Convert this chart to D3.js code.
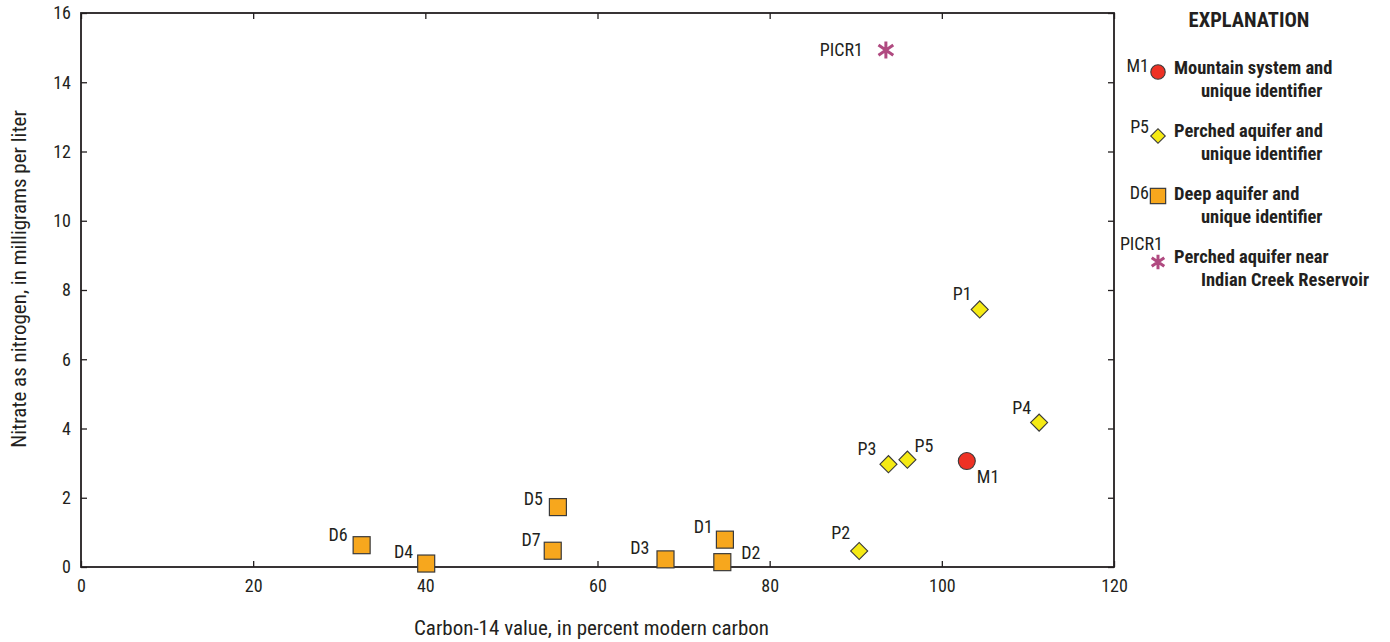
<!DOCTYPE html>
<html>
<head>
<meta charset="utf-8">
<script src="https://cdn.jsdelivr.net/npm/d3@7"></script>
<style>
  body { margin: 0; background: #fff; }
  svg text { font-family: "Liberation Sans Narrow", "Roboto Condensed", "Liberation Sans", sans-serif; fill: #231f20; }
</style>
</head>
<body>
<svg id="chart" width="1390" height="642"></svg>
<script>
// sample sites: carbon-14 (percent modern carbon) and nitrate (mg/L as N)
var siteIds   = ["D6", "D4", "D5", "D7", "D3", "D1", "D2", "P2", "P3", "P5", "M1", "P4", "P1", "PICR1"];
var siteGroup = ["deep", "deep", "deep", "deep", "deep", "deep", "deep", "perched", "perched", "perched", "mountain", "perched", "perched", "picr"];
var carbon14  = [32.6, 40.1, 55.4, 54.8, 67.9, 74.8, 74.5, 90.4, 93.8, 96.0, 102.9, 111.3, 104.4, 93.5];
var nitrate   = [0.63, 0.1, 1.73, 0.47, 0.22, 0.79, 0.14, 0.46, 2.97, 3.1, 3.06, 4.17, 7.44, 14.93];

var xTicks = [0, 20, 40, 60, 80, 100, 120];
var yTicks = [0, 2, 4, 6, 8, 10, 12, 14, 16];

var legendGroups = ["mountain", "perched", "deep", "picr"];
var legendIds = ["M1", "P5", "D6", "PICR1"];
var legendLines = [
  ["Mountain system and", "unique identifier"],
  ["Perched aquifer and", "unique identifier"],
  ["Deep aquifer and", "unique identifier"],
  ["Perched aquifer near", "Indian Creek Reservoir"]
];

var COLOR = {
  deep: "#f7a71d",
  perched: "#f5ea14",
  mountain: "#ee3124",
  picr: "#b04a80",
  line: "#231f20"
};

var margin = { left: 81, right: 276, top: 13, bottom: 75 };
var width = 1390 - margin.left - margin.right;
var height = 642 - margin.top - margin.bottom;

var svg = d3.select("#chart");
var g = svg.append("g").attr("transform", "translate(" + margin.left + "," + margin.top + ")");

var x = d3.scaleLinear().domain([0, 120]).range([0, width]);
var y = d3.scaleLinear().domain([0, 16]).range([height, 0]);

var data = siteIds.map(function (id, i) {
  return { id: id, group: siteGroup[i], c14: carbon14[i], no3: nitrate[i] };
});

// label placement relative to the marker: [dx, dy, anchor]
var labelPos = {
  D6: [-14, -4, "end"], D4: [-13, -6, "end"], D5: [-15, -2, "end"], D7: [-12, -5, "end"],
  D3: [-16, -5, "end"], D1: [-12, -7, "end"], D2: [19, -3, "start"], P2: [-9, -12, "end"],
  P3: [-12, -9, "end"], P5: [7, -8, "start"], M1: [10, 22, "start"], P4: [-8, -9, "end"],
  P1: [-8, -9, "end"], PICR1: [-23, 6, "end"]
};

// axes, ticks pointing inward on all four sides
function styleAxis(sel) {
  sel.select(".domain").remove();
  sel.selectAll("line").attr("stroke", COLOR.line).attr("stroke-width", 1.3);
  sel.selectAll("text").style("font-size", "18px").attr("fill", COLOR.line);
}

g.append("g")
  .attr("transform", "translate(0," + height + ")")
  .call(d3.axisBottom(x).tickValues(xTicks).tickSize(-6).tickPadding(12).tickFormat(d3.format("d")))
  .call(styleAxis);
g.append("g")
  .call(d3.axisLeft(y).tickValues(yTicks).tickSize(-6).tickPadding(10).tickFormat(d3.format("d")))
  .call(styleAxis);
g.append("g")
  .call(d3.axisTop(x).tickValues(xTicks).tickSize(-6).tickFormat(""))
  .call(styleAxis);
g.append("g")
  .attr("transform", "translate(" + width + ",0)")
  .call(d3.axisRight(y).tickValues(yTicks).tickSize(-6).tickFormat(""))
  .call(styleAxis);

g.append("rect")
  .attr("width", width)
  .attr("height", height)
  .attr("fill", "none")
  .attr("stroke", COLOR.line)
  .attr("stroke-width", 1.8);

// axis titles
svg.append("text")
  .attr("x", margin.left + x(60) - 6)
  .attr("y", 635)
  .attr("text-anchor", "middle")
  .style("font-size", "21px")
  .text("Carbon-14 value, in percent modern carbon");

svg.append("text")
  .attr("transform", "translate(26,279) rotate(-90)")
  .attr("text-anchor", "middle")
  .style("font-size", "21px")
  .text("Nitrate as nitrogen, in milligrams per liter");

// marker drawing
function drawMarker(sel, group, scale) {
  scale = scale || 1;
  if (group === "deep") {
    sel.append("rect")
      .attr("x", -8.5 * scale).attr("y", -8.5 * scale)
      .attr("width", 17 * scale).attr("height", 17 * scale)
      .attr("fill", COLOR.deep).attr("stroke", "#3a3a3a").attr("stroke-width", 1.2);
  } else if (group === "perched") {
    sel.append("path")
      .attr("d", d3.symbol().type(d3.symbolSquare).size(145 * scale * scale)())
      .attr("transform", "rotate(45)")
      .attr("fill", COLOR.perched).attr("stroke", "#3a3a3a").attr("stroke-width", 1.1);
  } else if (group === "mountain") {
    sel.append("circle")
      .attr("r", 8.5 * scale)
      .attr("fill", COLOR.mountain).attr("stroke", "#3a3a3a").attr("stroke-width", 1.1);
  } else {
    var r = 8.5 * scale;
    var d = "M0," + (-r) + "L0," + r +
      "M" + (-r * 0.87) + "," + (-r * 0.6) + "L" + (r * 0.87) + "," + (r * 0.6) +
      "M" + (-r * 0.87) + "," + (r * 0.6) + "L" + (r * 0.87) + "," + (-r * 0.6);
    sel.append("path")
      .attr("d", d)
      .attr("stroke", COLOR.picr).attr("stroke-width", 3).attr("fill", "none");
  }
}

var points = g.selectAll(".site")
  .data(data)
  .enter()
  .append("g")
  .attr("class", "site")
  .attr("transform", function (d) {
    return "translate(" + x(d.c14) + "," + y(d.no3) + ")";
  });

points.each(function (d) {
  drawMarker(d3.select(this), d.group);
});

points.append("text")
  .attr("x", function (d) { return labelPos[d.id][0]; })
  .attr("y", function (d) { return labelPos[d.id][1]; })
  .attr("text-anchor", function (d) { return labelPos[d.id][2]; })
  .style("font-size", "18px")
  .text(function (d) { return d.id; });

// explanation
var legend = svg.append("g");
legend.append("text")
  .attr("x", 1249)
  .attr("y", 27)
  .attr("text-anchor", "middle")
  .style("font-size", "20.5px")
  .style("font-weight", "bold")
  .text("EXPLANATION");

var rowY = [72, 136, 196, 262];
var idY = [72, 133, 199, 250];
var textY = [74, 137, 200, 263];

legendGroups.forEach(function (grp, i) {
  var row = legend.append("g").attr("transform", "translate(1158," + rowY[i] + ")");
  drawMarker(row, grp, grp === "deep" ? 0.9 : 0.85);
  legend.append("text")
    .attr("x", grp === "picr" ? 1163 : 1149)
    .attr("y", idY[i])
    .attr("text-anchor", "end")
    .style("font-size", "18px")
    .text(legendIds[i]);
  legend.append("text")
    .attr("x", 1174)
    .attr("y", textY[i])
    .style("font-size", "18.5px")
    .style("font-weight", "bold")
    .text(legendLines[i][0]);
  legend.append("text")
    .attr("x", 1201)
    .attr("y", textY[i] + 22.5)
    .style("font-size", "18.5px")
    .style("font-weight", "bold")
    .text(legendLines[i][1]);
});
</script>
</body>
</html>
